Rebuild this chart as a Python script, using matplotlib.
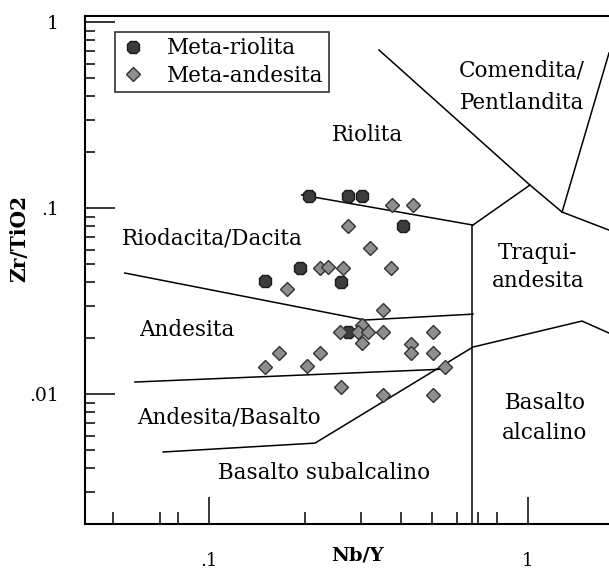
import matplotlib
matplotlib.use('Agg')
import matplotlib.pyplot as plt
from matplotlib.ticker import FixedLocator, NullFormatter

plt.rcParams['font.family'] = ['DejaVu Serif']

###############################################################################
# Samples (Nb/Y, Zr/TiO2)
riolita_nby = [0.205, 0.273, 0.301, 0.407, 0.192, 0.150, 0.260, 0.273]
riolita_zr = [0.1165, 0.1165, 0.1165, 0.0803, 0.0476, 0.0406, 0.0403, 0.0217]

andesita_nby = [0.374, 0.435, 0.273, 0.320, 0.222, 0.236, 0.262, 0.371, 0.175,
                0.352, 0.257, 0.301, 0.294, 0.316, 0.352, 0.301, 0.503, 0.431,
                0.431, 0.503, 0.550, 0.165, 0.150, 0.223, 0.202, 0.259, 0.352,
                0.503]
andesita_zr = [0.1042, 0.1042, 0.0803, 0.0610, 0.0476, 0.0482, 0.0476, 0.0476,
               0.0367, 0.0283, 0.0217, 0.0236, 0.0217, 0.0217, 0.0217, 0.0188,
               0.0217, 0.01875, 0.01674, 0.01674, 0.01411, 0.01674, 0.01411,
               0.01674, 0.01414, 0.01094, 0.00998, 0.00992]

###############################################################################
# Field boundaries (Winchester & Floyd), each a polyline in data units
boundaries = {
    'riolita_comendita': ([0.341, 1.016, 1.282], [0.710, 0.1334, 0.0955]),
    'riolita_traqui': ([1.016, 0.673], [0.1334, 0.0813]),
    'riolita_riodacita': ([0.195, 0.673], [0.118, 0.0813]),
    'comendita_traqui': ([1.282, 1.80], [0.0955, 0.0764]),
    'comendita_pantel': ([1.282, 1.80], [0.0955, 0.684]),
    'subalc_alcalino': ([0.67, 0.67], [0.0813, 0.002]),
    'riodacita_andesita': ([0.0543, 0.308, 0.673], [0.0449, 0.0251, 0.0270]),
    'andesita_ab': ([0.0584, 0.554], [0.01165, 0.01368]),
    'ab_basalto': ([0.0716, 0.2148, 0.673, 1.481, 1.80],
                   [0.00490, 0.00547, 0.01796, 0.02478, 0.02136]),
}

# Field names and where they sit
field_labels = ['Riolita', 'Comendita/', 'Pentlandita', 'Riodacita/Dacita',
                'Traqui-', 'andesita', 'Andesita', 'Andesita/Basalto',
                'Basalto subalcalino', 'Basalto', 'alcalino']
field_x = [0.3128, 0.958, 0.958, 0.102, 1.077, 1.077, 0.0851, 0.1153,
           0.2292, 1.133, 1.133]
field_y = [0.2477, 0.554, 0.368, 0.0692, 0.0575, 0.0406, 0.02217, 0.00755,
           0.00378, 0.00898, 0.00619]

xticks = [0.1, 1]
xticklabels = ['.1', '1']
xminor = [0.05, 0.07, 0.08, 0.2, 0.3, 0.4, 0.5, 0.6, 0.7, 0.8]
yticks = [0.01, 0.1, 1]
yticklabels = ['.01', '.1', '1']
yminor = [m * d for d in (0.001, 0.01, 0.1) for m in range(2, 10)]

###############################################################################
# Plot
fig = plt.figure(figsize=(6.09, 5.72), dpi=100)
ax = fig.add_axes([85 / 609, 1 - 524 / 572, 524 / 609, 508.3 / 572])
ax.set_xscale('log')
ax.set_yscale('log')
ax.set_xlim(0.0407, 1.80)
ax.set_ylim(0.00201, 1.085)

for xs, ys in boundaries.values():
    ax.plot(xs, ys, color='black', lw=1.1)

ax.plot(riolita_nby, riolita_zr, ls='none', marker='8', ms=10,
        mfc='#3c3c3c', mec='#1a1a1a', mew=1.0, label='Meta-riolita', zorder=3)
ax.plot(andesita_nby, andesita_zr, ls='none', marker='D', ms=7.5,
        mfc='#8e8e8e', mec='#333333', mew=1.0, label='Meta-andesita', zorder=4)

for txt, x, y in zip(field_labels, field_x, field_y):
    ax.text(x, y, txt, ha='center', va='center', fontsize=15.5)

ax.xaxis.set_major_locator(FixedLocator(xticks))
ax.set_xticklabels(xticklabels)
ax.xaxis.set_minor_locator(FixedLocator(xminor))
ax.xaxis.set_minor_formatter(NullFormatter())
ax.yaxis.set_major_locator(FixedLocator(yticks))
ax.set_yticklabels(yticklabels)
ax.yaxis.set_minor_locator(FixedLocator(yminor))
ax.yaxis.set_minor_formatter(NullFormatter())

ax.tick_params(axis='x', which='major', direction='in', length=19.5, width=1.1,
               pad=20, labelsize=13)
ax.tick_params(axis='x', which='minor', direction='in', length=8.5, width=1.1)
ax.tick_params(axis='y', which='major', direction='in', length=21.5, width=1.1,
               pad=19, labelsize=13.5)
ax.tick_params(axis='y', which='minor', direction='in', length=7.5, width=1.1)

for side in ('left', 'bottom', 'top'):
    ax.spines[side].set_linewidth(1.5)
ax.spines['right'].set_visible(False)

ax.set_xlabel('Nb/Y', fontsize=14, fontweight='bold')
ax.xaxis.set_label_coords((357 - 85) / 524, -(547 - 524) / 508.3)
ax.set_ylabel('Zr/TiO2', fontsize=14.5, fontweight='bold')
ax.yaxis.set_label_coords(-(85 - 29) / 524, 1 - (238 - 15.7) / 508.3)

leg = ax.legend(loc='upper left', bbox_to_anchor=(30 / 524, 1 - 16.3 / 508.3),
                borderaxespad=0, fontsize=15.5, frameon=True, fancybox=False,
                edgecolor='black', borderpad=0.25, handlelength=1.17,
                handletextpad=1.0, labelspacing=0.25, numpoints=1)
leg.get_frame().set_linewidth(1.2)

fig.savefig('out.png', dpi=100)
